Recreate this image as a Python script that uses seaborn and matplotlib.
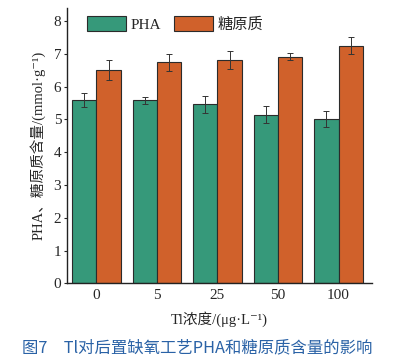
import numpy as np
import pandas as pd
import matplotlib.pyplot as plt
import seaborn as sns

conc = ["0", "5", "25", "50", "100"]
pha = [5.60, 5.58, 5.47, 5.14, 5.01]
pha_err = [0.21, 0.12, 0.26, 0.26, 0.24]
glycogen = [6.51, 6.74, 6.81, 6.92, 7.25]
glycogen_err = [0.31, 0.25, 0.27, 0.10, 0.26]
series = ["PHA", "糖原质"]

sns.set_style("ticks")
plt.rcParams["font.family"] = ["Liberation Serif", "Noto Sans CJK SC", "DejaVu Serif", "DejaVu Sans"]

df = pd.DataFrame({
    "conc": conc * 2,
    "value": pha + glycogen,
    "series": [series[0]] * len(conc) + [series[1]] * len(conc),
})

fig = plt.figure(figsize=(4.05, 3.62), dpi=100)
ax = fig.add_axes([0.165, 0.217, 0.753, 0.761])

palette = {"PHA": "#36997a", "糖原质": "#d0612b"}
sns.barplot(data=df, x="conc", y="value", hue="series", order=conc,
            hue_order=series, palette=palette, edgecolor="#2b2b2b",
            linewidth=0.8, width=0.8, saturation=1, errorbar=None, ax=ax)

# error bars at the bar centres
bars = [p for p in ax.patches if p.get_height() > 0][:len(df)]
errs = pha_err + glycogen_err
for p, e in zip(bars, errs):
    xc = p.get_x() + p.get_width() / 2
    ax.errorbar(xc, p.get_height(), yerr=e, fmt="none", ecolor="#333333",
                elinewidth=0.7, capsize=2.5, capthick=0.7)

ax.set_ylim(0, 8.4)
ax.set_xlim(-0.49, 4.55)
ax.set_yticks(range(0, 9))
sns.despine(ax=ax)
for s in ["left", "bottom"]:
    ax.spines[s].set_linewidth(1.0)
    ax.spines[s].set_color("#222222")
ax.tick_params(axis="x", length=0, labelsize=11, pad=4)
ax.tick_params(axis="y", length=2, labelsize=11, pad=2)

ax.set_xlabel("Tl浓度/(μg·L⁻¹)", fontsize=10.5, labelpad=7)
ax.set_ylabel("PHA、糖原质含量/(mmol·g⁻¹)", fontsize=10.5, labelpad=6)

ax.legend(loc="upper left", bbox_to_anchor=(0.02, 1.02), ncol=2, frameon=False,
          fontsize=11, handlelength=2.6, handleheight=1.1, columnspacing=0.8,
          handletextpad=0.3)
for h in ax.get_legend().legend_handles:
    h.set_edgecolor("#2b2b2b")
    h.set_linewidth(0.8)

fig.text(0.487, 0.04, "图7　Tl对后置缺氧工艺PHA和糖原质含量的影响",
         ha="center", va="center", fontsize=11.8, color="#2a62a6",
         weight="medium", family=["Noto Sans CJK SC", "DejaVu Sans"])

fig.savefig("out.png", dpi=100)
